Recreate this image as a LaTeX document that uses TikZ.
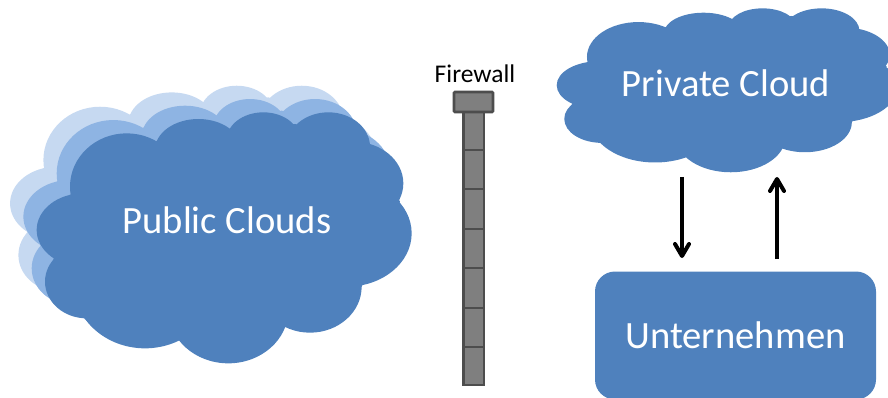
\documentclass[tikz,border=0pt]{standalone}
\usepackage{fontspec}
\setmainfont{Carlito}
\usetikzlibrary{arrows.meta}

\definecolor{cloudblue}{HTML}{4F81BD}
\definecolor{cloudmid}{HTML}{8EB4E3}
\definecolor{cloudlight}{HTML}{C6D9F1}
\definecolor{wallfill}{HTML}{7F7F7F}
\definecolor{wallline}{HTML}{4D4D4D}

\tikzset{
	cloudshape/.pic={
		\foreach \cx/\cy/\rx/\ry in {380/350/170/160, 595/240/130/93, 790/210/110/83, 985/230/125/103,
			1060/340/150/125, 1040/490/195/160, 930/650/155/138, 685/720/180/160,
			435/640/215/195, 260/635/125/110, 250/480/140/110}
			\path[pic actions] (\cx,\cy) ellipse [x radius=\rx, y radius=\ry];
		\path[pic actions] (475,210) -- (693,180) -- (885,162) -- (1105,220) -- (1200,395) -- (1085,650)
			-- (855,770) -- (540,810) -- (262,745) -- (160,570) -- (210,375) -- cycle;
	},
	cloudtext/.style={text=white, font=\fontsize{38.6}{38.6}\selectfont},
	wallpart/.style={draw=wallline, fill=wallfill, line width=2.6pt},
	flow/.style={line width=4pt, -{Straight Barb[length=12pt, width=14pt, line width=4pt, round]}}
}

\begin{document}
\begin{tikzpicture}[x=1pt, y=-1pt]
	\useasboundingbox (0,0) rectangle (888,398);
	\clip (0,0) rectangle (888,398);

	% public clouds
	\pic[fill=cloudlight, xscale=1/3, yscale=1/3] at (-26.6,43.4) {cloudshape};
	\pic[fill=cloudmid, xscale=1/3, yscale=1/3] at (-13.3,56.7) {cloudshape};
	\pic[fill=cloudblue, xscale=1/3, yscale=1/3] at (0,70) {cloudshape};
	\node[cloudtext] (public) at (227,220) {Public Clouds};

	% private cloud
	\pic[fill=cloudblue, xscale=0.3027, yscale=0.2177] at (523.4,-19.3) {cloudshape};
	\node[cloudtext] (private) at (726,83) {Private Cloud};

	% firewall
	\foreach \ya/\yb in {112/150, 150/189, 189/229, 229/268, 268/308, 308/347, 347/385}
		\draw[wallpart] (463.5,\ya) rectangle (484,\yb);
	\draw[wallpart, rounded corners=1pt] (454,92) rectangle (493,112);
	\node[font=\fontsize{25.5}{25.5}\selectfont] (firewall) at (475,74) {Firewall};

	% company
	\node[fill=cloudblue, rounded corners=20pt, minimum width=281pt, minimum height=128pt, cloudtext] (company) at (735.5,335.5) {Unternehmen};

	\coordinate (downstart) at (682,177);
	\coordinate (downend) at (682,258);
	\coordinate (upstart) at (777,259);
	\coordinate (upend) at (777,177);
	\draw[flow] (downstart) -- (downend);
	\draw[flow] (upstart) -- (upend);
\end{tikzpicture}
\end{document}
